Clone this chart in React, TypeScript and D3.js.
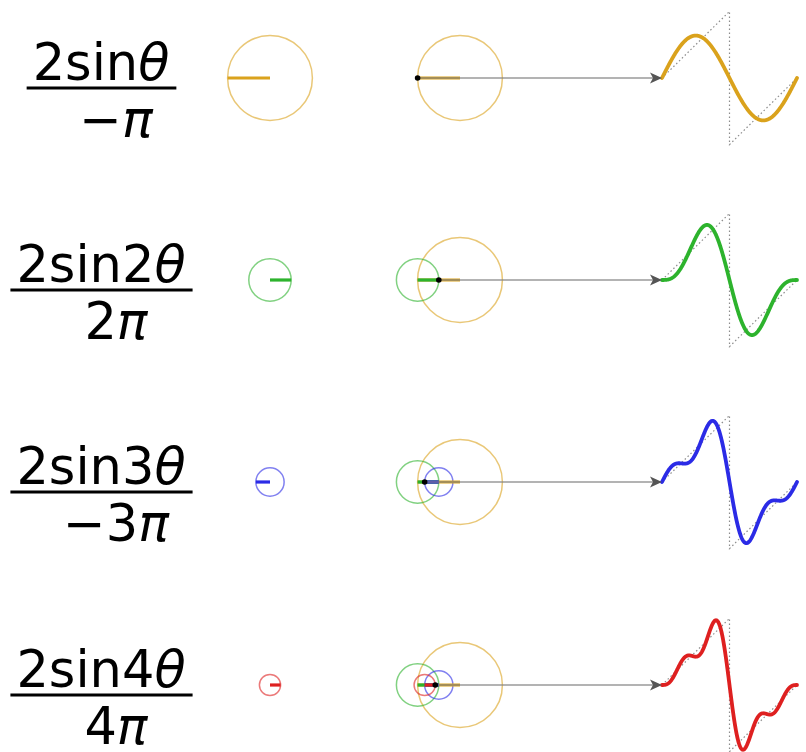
import React, { useEffect, useRef } from 'react';
import * as d3 from 'd3';

// Fourier series of the sawtooth f(θ) = θ on (−π, π): θ = Σ 2(−1)^(n+1) sin(nθ)/n
const harmonics = [1, 2, 3, 4];
const coefficients = [2, -1, 2 / 3, -0.5];
const colors = ['#daa21c', '#2db32d', '#2b2be6', '#de2020'];
const numeratorLabels = ['2sin', '2sin2', '2sin3', '2sin4']; // followed by italic θ
const denominatorLabels = ['−', '2', '−3', '4']; // followed by italic π
const sawtoothKnots: [number, number][] = [
  [0, 0],
  [Math.PI, Math.PI],
  [Math.PI, -Math.PI],
  [2 * Math.PI, 0],
];

const W = 806;
const H = 752;
const rowY = [78, 280, 482, 685];

export default function App() {
  const ref = useRef<SVGSVGElement | null>(null);

  useEffect(() => {
    const svg = d3.select(ref.current);
    svg.selectAll('*').remove();

    const xWave = d3.scaleLinear().domain([0, 2 * Math.PI]).range([662, 797]);
    const thetas = d3.range(0, 2 * Math.PI + 1e-9, (2 * Math.PI) / 400);

    rowY.forEach((cy, row) => {
      const y = d3.scaleLinear().domain([-Math.PI, Math.PI]).range([cy + 66.6, cy - 66.6]);
      const k = y(0) - y(1);
      const g = svg.append('g');

      // ---- label (fraction) ----
      const lab = g.append('g').attr('font-family', 'DejaVu Sans').attr('font-size', 51).attr('fill', '#000');
      const num = lab
        .append('text')
        .attr('x', 101)
        .attr('y', cy + 2)
        .attr('text-anchor', 'middle');
      num.append('tspan').text(numeratorLabels[row]);
      num.append('tspan').attr('font-style', 'italic').text('θ');
      const den = lab
        .append('text')
        .attr('x', 116)
        .attr('y', cy + 59)
        .attr('text-anchor', 'middle');
      den.append('tspan').text(denominatorLabels[row]);
      den.append('tspan').attr('font-style', 'italic').text('π');
      let nw = 140;
      try {
        nw = (num.node() as SVGTextElement).getComputedTextLength();
      } catch (e) {}
      lab
        .append('line')
        .attr('x1', 101 - nw / 2 - 6)
        .attr('x2', 101 + nw / 2 + 7)
        .attr('y1', cy + 10)
        .attr('y2', cy + 10)
        .attr('stroke', '#000')
        .attr('stroke-width', 3);

      // ---- single circle for this harmonic ----
      const a = coefficients[row];
      const col = colors[row];
      g.append('circle')
        .attr('cx', 270)
        .attr('cy', cy)
        .attr('r', Math.abs(a) * k)
        .attr('fill', 'none')
        .attr('stroke', col)
        .attr('stroke-opacity', 0.6)
        .attr('stroke-width', 1.5);
      g.append('line')
        .attr('x1', 270)
        .attr('y1', cy)
        .attr('x2', 270 - a * k)
        .attr('y2', cy)
        .attr('stroke', col)
        .attr('stroke-width', 3.2);

      // ---- stacked circles (phasor chain) ----
      const theta0 = 0;
      let px = 460;
      let py = cy;
      const segs: { x1: number; y1: number; x2: number; y2: number; c: string; r: number }[] = [];
      for (let i = 0; i <= row; i++) {
        const ai = coefficients[i];
        const n = harmonics[i];
        const nx = px - ai * k * Math.cos(n * theta0);
        const ny = py - ai * k * Math.sin(n * theta0);
        segs.push({ x1: px, y1: py, x2: nx, y2: ny, c: colors[i], r: Math.abs(ai) * k });
        px = nx;
        py = ny;
      }
      segs.forEach((s) => {
        g.append('circle')
          .attr('cx', s.x1)
          .attr('cy', s.y1)
          .attr('r', s.r)
          .attr('fill', 'none')
          .attr('stroke', s.c)
          .attr('stroke-opacity', 0.6)
          .attr('stroke-width', 1.5);
      });
      segs.forEach((s) => {
        g.append('line')
          .attr('x1', s.x1)
          .attr('y1', s.y1)
          .attr('x2', s.x2)
          .attr('y2', s.y2)
          .attr('stroke', s.c)
          .attr('stroke-width', 3.2);
      });

      // ---- sawtooth target (dotted) ----
      const saw = d3
        .line<[number, number]>()
        .x((d) => xWave(d[0]))
        .y((d) => y(d[1]));
      g.append('path')
        .attr('d', saw(sawtoothKnots) as string)
        .attr('fill', 'none')
        .attr('stroke', '#8c8c8c')
        .attr('stroke-width', 1.2)
        .attr('stroke-dasharray', '1.5,2.5');

      // ---- partial sum wave ----
      const partial = (t: number) => {
        let s = 0;
        for (let i = 0; i <= row; i++) s += coefficients[i] * Math.sin(harmonics[i] * t);
        return s;
      };
      const wave = d3
        .line<number>()
        .x((t) => xWave(t))
        .y((t) => y(partial(t)))
        .curve(d3.curveLinear);
      g.append('path')
        .attr('d', wave(thetas) as string)
        .attr('fill', 'none')
        .attr('stroke', colors[row])
        .attr('stroke-width', 3.8)
        .attr('stroke-linejoin', 'round')
        .attr('stroke-linecap', 'round');

      // ---- horizontal projection line with arrow ----
      const ax = xWave(0);
      g.append('line')
        .attr('x1', px)
        .attr('y1', py)
        .attr('x2', ax - 6)
        .attr('y2', py)
        .attr('stroke', '#808080')
        .attr('stroke-opacity', 0.6)
        .attr('stroke-width', 2.2);
      g.append('path')
        .attr('d', `M${ax - 12},${py - 5.5} L${ax},${py} L${ax - 12},${py + 5.5} L${ax - 9},${py} Z`)
        .attr('fill', '#555');

      // ---- tip dot ----
      g.append('circle').attr('cx', px).attr('cy', py).attr('r', 2.8).attr('fill', '#000');
    });
  }, []);

  return (
    <svg
      ref={ref}
      width={W}
      height={H}
      style={{ position: 'absolute', left: 0, top: 0, background: '#fff', display: 'block' }}
    />
  );
}
